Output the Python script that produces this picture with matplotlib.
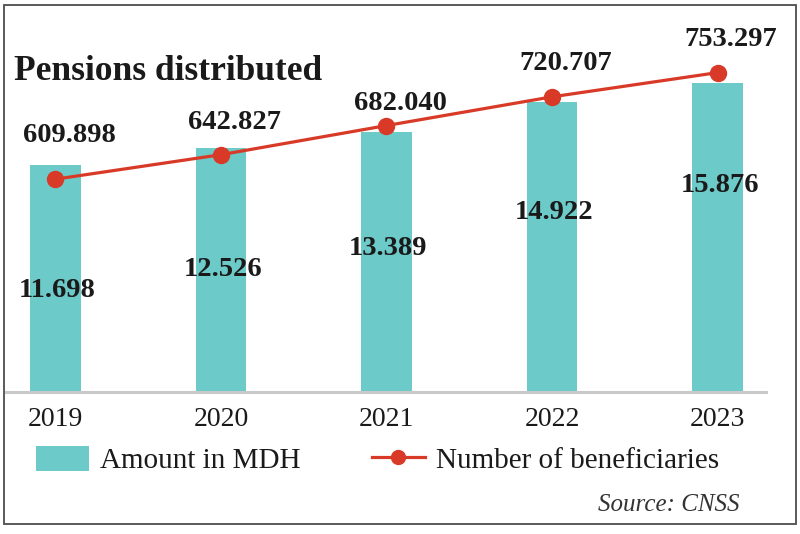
import matplotlib

matplotlib.use("Agg")
import matplotlib.pyplot as plt
import numpy as np
from matplotlib.patches import Patch, Rectangle
from matplotlib.lines import Line2D

# Data
years = ["2019", "2020", "2021", "2022", "2023"]
amount_mdh = [11.698, 12.526, 13.389, 14.922, 15.876]
beneficiaries = [609.898, 642.827, 682.040, 720.707, 753.297]

TEAL = "#6ccac9"
RED = "#d83a27"
INK = "#1a1a1a"
SERIF = "Liberation Serif"

W, H = 800, 534
fig = plt.figure(figsize=(W / 100, H / 100), dpi=100)


def px(x0, y0, x1, y1):
    # pixel box (top-left origin) -> figure fraction rect
    return [x0 / W, 1 - y1 / H, (x1 - x0) / W, (y1 - y0) / H]


ax = fig.add_axes(px(6, 40, 766, 392))
x = np.arange(len(years))

ax.bar(x, amount_mdh, width=0.308, color=TEAL, zorder=1)
ax.set_xlim(-0.299, 4.293)
ax.set_ylim(0, 18.1)

for s in ["top", "left", "right"]:
    ax.spines[s].set_visible(False)
ax.spines["bottom"].set_color("#c9c9c9")
ax.spines["bottom"].set_linewidth(2.2)
ax.set_yticks([])
ax.set_xticks(x)
ax.set_xticklabels(years, fontsize=20, family=SERIF, color=INK)
ax.tick_params(axis="x", length=0, pad=11)

# bar value labels (offset below top of bar, in pixels)
bar_label_dy = [-126, -121, -117, -111, -102]
for xi, v, dy in zip(x, amount_mdh, bar_label_dy):
    ax.annotate(f"{v:.3f}", (xi, v), xytext=(2, dy), textcoords="offset pixels",
                ha="center", va="center", fontsize=20.5, fontweight="bold",
                family=SERIF, color=INK)

# beneficiaries line on a twin axis
ax2 = ax.twinx()
ax2.set_ylim(323.4, 797.2)
ax2.axis("off")
ax2.plot(x, beneficiaries, color=RED, lw=2.3, marker="o", markersize=11.5,
         markerfacecolor=RED, markeredgecolor=RED, zorder=3)

line_label_dy = [44, 32, 22, 33, 33]
for xi, v, dy in zip(x, beneficiaries, line_label_dy):
    ax2.annotate(f"{v:.3f}", (xi, v), xytext=(13.5, dy), textcoords="offset pixels",
                 ha="center", va="center", fontsize=20.5, fontweight="bold",
                 family=SERIF, color=INK)

# title
fig.text(14 / W, 1 - 80 / H, "Pensions distributed", ha="left", va="baseline",
         fontsize=25.5, fontweight="bold", family=SERIF, color=INK)

# legend
handles = [
    Patch(facecolor=TEAL, edgecolor="none"),
    Line2D([], [], color=RED, lw=2.3, marker="o", markersize=10),
]
fig.legend(handles, ["Amount in MDH", "Number of beneficiaries"],
           loc="center left", bbox_to_anchor=(36 / W, 1 - 460 / H), ncol=2,
           frameon=False, borderpad=0, borderaxespad=0,
           handlelength=1.82, handleheight=0.93, handletextpad=0.38,
           columnspacing=2.43, prop={"family": SERIF, "size": 21},
           labelcolor=INK)

# source
fig.text(740 / W, 1 - 505 / H, "Source: CNSS", ha="right", va="center",
         fontsize=18, style="italic", family=SERIF, color="#333333")

# outer frame
fig.patches.append(Rectangle((4 / W, 1 - 524 / H), 792 / W, 519 / H,
                             transform=fig.transFigure, fill=False,
                             edgecolor="#4d4d4d", lw=1.3))

fig.savefig("out.png", dpi=100)
